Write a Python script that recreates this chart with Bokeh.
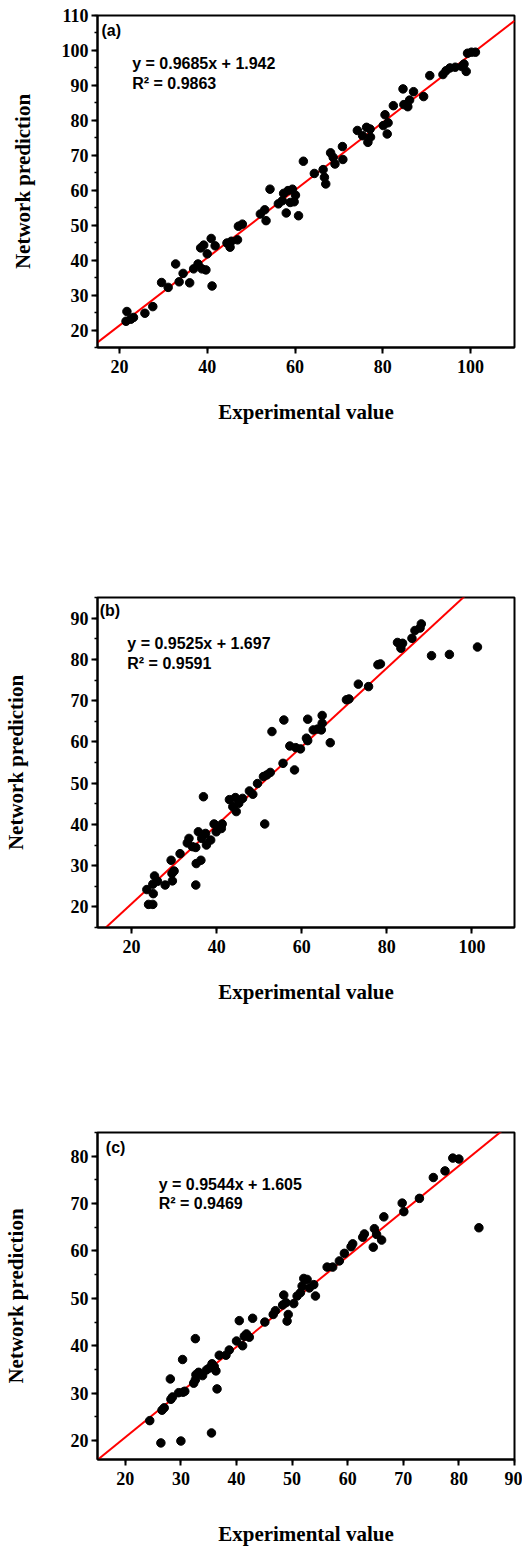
from bokeh.plotting import figure
from bokeh.models import Range1d, SingleIntervalTicker, ColumnDataSource
from bokeh.layouts import column
from bokeh.core.properties import value
from bokeh.embed import file_html
from bokeh.resources import INLINE

# ---------------- data ----------------
a_x = [21.7, 21.5, 22.6, 23.2, 25.8, 27.6, 29.6, 31.1, 32.8, 33.6,
       34.5, 36.0, 36.9, 37.9, 38.5, 39.2, 38.8, 39.7, 40.0, 40.9,
       41.1, 41.8, 44.5, 45.2, 45.5, 46.9, 47.1, 48.0, 52.1, 53.1,
       53.4, 54.3, 56.2, 57.1, 57.4, 58.0, 58.4, 59.4, 58.9, 59.8,
       60.1, 60.8, 61.9, 64.4, 66.4, 66.7, 67.0, 68.1, 68.7, 69.1,
       70.8, 70.9, 74.2, 75.4, 76.3, 76.6, 77.1, 77.2, 80.1, 80.5,
       81.0, 81.2, 82.4, 84.6, 84.8, 85.7, 86.1, 87.0, 89.3, 90.7,
       93.7, 94.4, 95.3, 96.5, 98.0, 98.5, 99.0, 99.3, 100.2, 101.1]
a_y = [25.3, 22.5, 23.1, 23.6, 24.8, 26.7, 33.6, 32.2, 38.9, 33.8,
       36.2, 33.5, 37.5, 38.9, 43.5, 44.3, 37.5, 37.2, 41.8, 46.2,
       32.6, 44.1, 44.9, 43.7, 45.4, 45.8, 49.7, 50.3, 53.2, 54.4,
       51.3, 60.3, 56.1, 57.0, 59.1, 53.5, 59.9, 60.3, 56.5, 56.7,
       58.6, 52.7, 68.3, 64.8, 65.9, 63.7, 61.8, 70.7, 69.4, 67.5,
       72.5, 68.8, 77.1, 75.6, 78.0, 73.7, 77.5, 75.2, 78.5, 81.6,
       76.1, 79.3, 84.2, 89.0, 84.5, 83.9, 85.8, 88.2, 86.8, 92.8,
       93.1, 94.2, 95.0, 95.2, 95.4, 96.1, 94.0, 99.2, 99.5, 99.5]

b_x = [23.6, 24.0, 25.0, 25.1, 25.4, 25.0, 26.1, 27.9, 29.3, 29.5,
       30.0, 29.6, 31.4, 33.1, 33.5, 34.3, 35.1, 35.1, 35.2, 36.3,
       35.7, 36.5, 36.9, 37.4, 37.6, 38.6, 39.4, 39.9, 40.5, 41.3,
       41.1, 43.0, 43.8, 44.4, 44.6, 45.2, 46.1, 47.7, 48.5, 49.6,
       51.0, 51.3, 51.8, 52.6, 53.0, 55.6, 55.8, 57.2, 58.3, 58.6,
       59.7, 61.1, 61.4, 61.4, 62.7, 63.7, 64.6, 64.8, 64.8, 66.7,
       70.5, 71.1, 73.3, 75.7, 77.9, 78.5, 82.5, 83.3, 83.7, 85.9,
       86.6, 87.8, 88.1, 90.5, 94.7, 101.3]
b_y = [24.2, 20.6, 20.6, 23.2, 27.5, 25.5, 26.2, 25.3, 31.3, 28.1,
       28.7, 26.3, 32.9, 35.5, 36.6, 34.6, 34.4, 25.3, 30.5, 31.3,
       38.2, 36.6, 46.7, 37.8, 35.0, 36.2, 40.1, 38.2, 39.0, 40.1,
       39.0, 46.0, 44.3, 46.5, 43.1, 45.1, 46.3, 48.1, 47.3, 49.9,
       51.6, 40.1, 52.0, 52.6, 62.5, 54.8, 65.3, 59.0, 53.2, 58.6,
       58.3, 60.9, 60.3, 65.5, 62.9, 63.1, 62.9, 64.5, 66.4, 59.8,
       70.2, 70.4, 74.0, 73.4, 78.7, 78.9, 84.1, 82.7, 83.9, 85.1,
       87.0, 87.6, 88.6, 80.9, 81.2, 83.0]

c_x = [24.4, 26.4, 26.6, 27.0, 28.1, 28.2, 28.5, 29.6, 30.0, 30.3,
       30.4, 30.7, 32.3, 32.6, 32.6, 32.7, 33.2, 33.9, 34.6, 35.1,
       35.5, 35.6, 36.0, 36.3, 36.5, 36.9, 38.1, 38.7, 40.0, 40.5,
       41.1, 41.4, 41.8, 42.3, 42.9, 45.1, 46.6, 47.0, 48.3, 48.5,
       48.9, 49.1, 49.3, 50.3, 50.9, 51.5, 51.8, 52.1, 52.7, 53.1,
       53.9, 54.2, 56.3, 57.3, 58.5, 59.4, 60.6, 60.9, 62.7, 63.0,
       64.6, 64.8, 65.2, 66.1, 66.5, 69.8, 70.1, 72.9, 75.4, 77.5,
       78.9, 80.0, 83.6]
c_y = [24.2, 19.5, 26.4, 26.9, 33.0, 28.7, 29.2, 30.1, 19.9, 37.1,
       30.2, 30.4, 32.1, 32.8, 41.5, 33.9, 34.4, 33.7, 34.9, 35.3,
       21.6, 36.2, 35.6, 34.7, 30.9, 38.0, 38.0, 39.1, 41.0, 45.3,
       40.0, 42.0, 42.5, 41.8, 45.8, 45.0, 46.6, 47.4, 48.6, 50.7,
       49.1, 45.2, 46.6, 48.9, 50.5, 51.2, 52.6, 54.2, 54.0, 52.2,
       52.9, 50.5, 56.6, 56.6, 57.9, 59.5, 60.9, 61.5, 62.9, 63.6,
       60.8, 64.7, 63.5, 62.3, 67.2, 70.1, 68.3, 71.1, 75.5, 76.9,
       79.6, 79.4, 64.9]

fit_slope = [0.9685, 0.9525, 0.9544]
fit_intercept = [1.942, 1.697, 1.605]
fit_r2 = ["0.9863", "0.9591", "0.9469"]
panel_tags = ["(a)", "(b)", "(c)"]
x_title = "Experimental value"
y_title = "Network prediction"

SERIF = "Liberation Serif"
SANS = "Liberation Sans"


def panel(xs, ys, slope, intercept, r2, tag, xr, yr, xint, xminor,
          height, bt, bb, bl, br, xstand, ystand, eq_pos, tag_pos):
    p = figure(width=522, height=height,
               x_range=Range1d(*xr), y_range=Range1d(*yr),
               output_backend="svg", toolbar_location=None,
               min_border_left=bl, min_border_right=br,
               min_border_top=bt, min_border_bottom=bb,
               background_fill_color="white", border_fill_color="white")
    p.xgrid.visible = False
    p.ygrid.visible = False
    p.outline_line_color = "black"
    p.outline_line_width = 2
    p.outline_line_alpha = 1.0

    p.xaxis.ticker = SingleIntervalTicker(interval=xint, num_minor_ticks=xminor)
    p.yaxis.ticker = SingleIntervalTicker(interval=10, num_minor_ticks=2)
    for ax in (p.xaxis[0], p.yaxis[0]):
        ax.axis_line_width = 2
        ax.axis_line_color = "black"
        ax.major_tick_line_width = 2
        ax.minor_tick_line_width = 1.5
        ax.major_tick_out = 6
        ax.major_tick_in = 0
        ax.minor_tick_out = 3
        ax.minor_tick_in = 0
        ax.major_label_text_font = SERIF
        ax.major_label_text_font_style = "bold"
        ax.major_label_text_font_size = "18px"
        ax.major_label_text_color = "black"
        ax.axis_label_text_font = SERIF
        ax.axis_label_text_font_style = "bold"
        ax.axis_label_text_font_size = "21px"
        ax.axis_label_text_color = "black"
    p.xaxis.major_label_standoff = 6
    p.yaxis.major_label_standoff = 3
    p.xaxis.axis_label = x_title
    p.yaxis.axis_label = y_title
    p.xaxis.axis_label_standoff = xstand
    p.yaxis.axis_label_standoff = ystand

    # fitted line across the full x range
    lx = [xr[0], xr[1]]
    ly = [slope * v + intercept for v in lx]
    p.line(lx, ly, line_color="#ff0000", line_width=2)

    src = ColumnDataSource(dict(x=xs, y=ys))
    p.scatter("x", "y", source=src, marker="circle", size=8.5,
              fill_color="black", line_color="black")

    ex, ey1, ey2 = eq_pos
    sign = "+" if intercept >= 0 else "-"
    p.text([ex, ex], [ey1, ey2],
           text=[f"y = {slope}x {sign} {abs(intercept)}", f"R² = {r2}"],
           text_font=value(SANS), text_font_style="bold",
           text_font_size="16px", text_color="black",
           text_align="left", text_baseline="middle")
    p.text([tag_pos[0]], [tag_pos[1]], text=[tag],
           text_font=value(SANS), text_font_style="bold",
           text_font_size="16px", text_color="black",
           text_align="left", text_baseline="middle")
    return p


pa = panel(a_x, a_y, fit_slope[0], fit_intercept[0], fit_r2[0], panel_tags[0],
           (15, 110), (15, 110), 20, 1,
           500, 15, 153, 96, 5, 24, 24,
           (22.9, 96.3, 90.6), (15.9, 105.7))
pb = panel(b_x, b_y, fit_slope[1], fit_intercept[1], fit_r2[1], panel_tags[1],
           (12, 110), (15, 95), 20, 1,
           510, 97, 83, 96, 5, 24, 40,
           (19.0, 83.8, 78.9), (12.5, 91.8))
pc = panel(c_x, c_y, fit_slope[2], fit_intercept[2], fit_r2[2], panel_tags[2],
           (15, 90), (16, 85), 10, 1,
           538, 122, 85, 94, 8, 34, 40,
           (26.0, 74.1, 70.1), (16.5, 81.9))

layout = column(pa, pb, pc, spacing=0)
open("out.html", "w").write(file_html(layout, INLINE))
